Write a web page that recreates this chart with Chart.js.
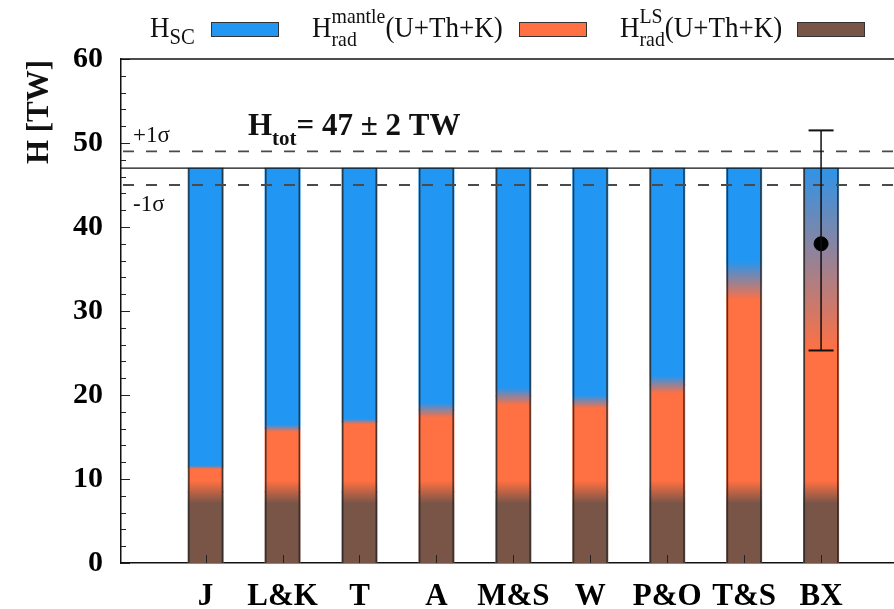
<!DOCTYPE html>
<html>
<head>
<meta charset="utf-8">
<script src="https://cdn.jsdelivr.net/npm/chart.js@4.4.1/dist/chart.umd.min.js"></script>
<style>
  html, body { margin: 0; padding: 0; background: #fff; overflow: hidden; }
  #wrap { width: 894px; height: 609px; overflow: hidden; }
</style>
</head>
<body>
<div id="wrap"><canvas id="heat" width="906" height="609"></canvas></div>
<script>
// Earth composition models
const models = ['J', 'L&K', 'T', 'A', 'M&S', 'W', 'P&O', 'T&S', 'BX'];
// lithosphere (LS) radiogenic heat, TW, and the band it fades over
const lsHeat = [8.45, 8.45, 8.45, 8.45, 8.45, 8.45, 8.45, 8.45, 8.45];
const lsLow = 7.1, lsHigh = 9.8;
// top of the radiogenic part (LS + mantle), TW, and its fade band
const radTop  = [11.4, 16.05, 16.85, 18.2, 19.85, 19.2, 21.25, 33.65, 38.0];
const radLow  = [11.2, 15.6, 16.5, 17.3, 18.8, 18.4, 20.2, 31.3, 25.3];
const radHigh = [11.6, 16.5, 17.2, 19.1, 20.9, 20.0, 22.3, 36.0, 48.5];
// total surface heat flow
const hTot = 47, hTotErr = 2;
// BX point with its error bar
const bxValue = 38, bxLow = 25.3, bxHigh = 51.5;

const BLUE = '#2196F3', ORANGE = '#FF7043', BROWN = '#795548';
const SERIF = '"Liberation Serif", "Times New Roman", serif';

const lsPart = lsHeat;
const mantlePart = radTop.map((v, i) => v - lsHeat[i]);
const scPart = radTop.map(v => hTot - v);

// one gradient per bar, shared by all its stacked segments
function barFill(c) {
  const chart = c.chart, y = chart.scales.y, i = c.dataIndex;
  if (!y || !chart.chartArea || i === undefined) return BLUE;
  const top = Math.max(hTot, radHigh[i]);
  const g = chart.ctx.createLinearGradient(0, y.getPixelForValue(0), 0, y.getPixelForValue(top));
  g.addColorStop(0, BROWN);
  g.addColorStop(lsLow / top, BROWN);
  g.addColorStop(lsHigh / top, ORANGE);
  g.addColorStop(radLow[i] / top, ORANGE);
  g.addColorStop(radHigh[i] / top, BLUE);
  g.addColorStop(1, BLUE);
  return g;
}

function toXY(arr) {
  return arr.map((v, i) => ({ x: i + 1, y: v }));
}

const barStyle = {
  type: 'bar',
  order: 1,
  backgroundColor: barFill,
  borderWidth: 0,
  inflateAmount: 0.5,
  barThickness: 35
};

function drawParts(ctx, x, y, parts, sx) {
  ctx.save();
  ctx.translate(x, y);
  ctx.scale(sx, 1);
  ctx.textBaseline = 'alphabetic';
  ctx.textAlign = 'left';
  let cx = 0;
  for (const p of parts) {
    if (p.sub !== undefined) {
      ctx.font = `${p.size}px ${SERIF}`;
      ctx.fillText(p.sub, cx, p.subDy);
      ctx.fillText(p.sup, cx, p.supDy);
      cx += Math.max(ctx.measureText(p.sub).width, ctx.measureText(p.sup).width);
    } else {
      ctx.font = `${p.bold ? 'bold ' : ''}${p.size}px ${SERIF}`;
      ctx.fillText(p.text, cx, p.dy || 0);
      cx += ctx.measureText(p.text).width;
    }
  }
  ctx.restore();
}

const decorations = {
  id: 'decorations',
  afterDatasetsDraw(chart) {
    const { ctx, chartArea: a, scales: { x, y } } = chart;
    ctx.save();

    // side outlines of each stacked bar
    const bottomBars = chart.getDatasetMeta(0).data;
    const topBars = chart.getDatasetMeta(2).data;
    ctx.strokeStyle = 'rgba(40,40,40,0.85)';
    ctx.lineWidth = 1.5;
    bottomBars.forEach((bar, i) => {
      const half = bar.width / 2;
      const y0 = bar.base, y1 = topBars[i].y;
      for (const px of [bar.x - half + 0.75, bar.x + half - 0.75]) {
        ctx.beginPath();
        ctx.moveTo(px, y0);
        ctx.lineTo(px, y1);
        ctx.stroke();
      }
    });

    // total heat line and its +-1 sigma band
    ctx.strokeStyle = '#111';
    ctx.lineWidth = 1.2;
    ctx.beginPath();
    ctx.moveTo(a.left, y.getPixelForValue(hTot));
    ctx.lineTo(a.right, y.getPixelForValue(hTot));
    ctx.stroke();
    ctx.strokeStyle = '#4a4a4a';
    ctx.lineWidth = 1.8;
    ctx.setLineDash([11, 12]);
    for (const v of [hTot + hTotErr, hTot - hTotErr]) {
      ctx.beginPath();
      ctx.moveTo(a.left + 2, y.getPixelForValue(v));
      ctx.lineTo(a.right, y.getPixelForValue(v));
      ctx.stroke();
    }
    ctx.setLineDash([]);

    // BX error bar
    const bx = x.getPixelForValue(models.length);
    ctx.strokeStyle = '#111';
    ctx.lineWidth = 1.5;
    ctx.beginPath();
    ctx.moveTo(bx, y.getPixelForValue(bxLow));
    ctx.lineTo(bx, y.getPixelForValue(bxHigh));
    ctx.stroke();
    ctx.lineWidth = 2;
    for (const v of [bxLow, bxHigh]) {
      ctx.beginPath();
      ctx.moveTo(bx - 12.5, y.getPixelForValue(v));
      ctx.lineTo(bx + 12.5, y.getPixelForValue(v));
      ctx.stroke();
    }

    // inward ticks
    ctx.strokeStyle = '#222';
    ctx.lineWidth = 1;
    for (let v = 0; v <= 60; v += 2) {
      const py = Math.round(y.getPixelForValue(v)) + 0.5;
      ctx.beginPath();
      ctx.moveTo(a.left, py);
      ctx.lineTo(a.left + (v % 10 === 0 ? 9 : 5), py);
      ctx.stroke();
    }
    models.forEach((m, i) => {
      const px = Math.round(x.getPixelForValue(i + 1)) + 0.5;
      ctx.beginPath();
      ctx.moveTo(px, a.bottom);
      ctx.lineTo(px, a.bottom - 8);
      ctx.stroke();
    });

    // top frame line
    ctx.strokeStyle = '#111';
    ctx.lineWidth = 1.5;
    ctx.beginPath();
    ctx.moveTo(a.left, a.top);
    ctx.lineTo(a.right, a.top);
    ctx.stroke();

    // sigma labels and total
    ctx.fillStyle = '#111';
    drawParts(ctx, a.left + 12, y.getPixelForValue(hTot + hTotErr) - 9,
      [{ text: '+1σ', size: 23 }], 1);
    drawParts(ctx, a.left + 12, y.getPixelForValue(hTot - hTotErr) + 26,
      [{ text: '-1σ', size: 23 }], 1);
    drawParts(ctx, 248, y.getPixelForValue(hTot + hTotErr) - 16, [
      { text: 'H', size: 31, bold: true },
      { text: 'tot', size: 21, bold: true, dy: 10 },
      { text: `= ${hTot} ± ${hTotErr} TW`, size: 31, bold: true }
    ], 1);

    // y axis title
    ctx.save();
    ctx.translate(40, 112);
    ctx.rotate(-Math.PI / 2);
    ctx.font = `bold 31px ${SERIF}`;
    ctx.textAlign = 'center';
    ctx.textBaseline = 'middle';
    ctx.fillText('H [TW]', 0, 0);
    ctx.restore();

    // legend
    const entries = [
      { x: 150, box: 211, color: BLUE, parts: [
        { text: 'H', size: 30 }, { text: 'SC', size: 23, dy: 7 }] },
      { x: 312, box: 519, color: ORANGE, parts: [
        { text: 'H', size: 30 }, { sub: 'rad', sup: 'mantle', size: 22, subDy: 9, supDy: -14 },
        { text: '(U+Th+K)', size: 30 }] },
      { x: 620, box: 797, color: BROWN, parts: [
        { text: 'H', size: 30 }, { sub: 'rad', sup: 'LS', size: 22, subDy: 9, supDy: -14 },
        { text: '(U+Th+K)', size: 30 }] }
    ];
    for (const e of entries) {
      drawParts(ctx, e.x, 37, e.parts, 0.9);
      ctx.fillStyle = e.color;
      ctx.fillRect(e.box, 22, 67, 14);
      ctx.strokeStyle = '#333';
      ctx.lineWidth = 1;
      ctx.strokeRect(e.box + 0.5, 22.5, 67, 14);
      ctx.fillStyle = '#111';
    }
    ctx.restore();
  }
};

new Chart(document.getElementById('heat'), {
  data: {
    datasets: [
      { ...barStyle, label: 'H_rad LS', data: toXY(lsPart) },
      { ...barStyle, label: 'H_rad mantle', data: toXY(mantlePart) },
      { ...barStyle, label: 'H_SC', data: toXY(scPart) },
      {
        type: 'scatter',
        order: 0,
        label: 'BX',
        data: [{ x: models.length, y: bxValue }],
        backgroundColor: '#000',
        borderColor: '#000',
        pointRadius: 7,
        pointHoverRadius: 7
      }
    ]
  },
  options: {
    responsive: false,
    animation: false,
    events: [],
    layout: { padding: { top: 59, right: 4, left: 0, bottom: 0 } },
    plugins: { legend: { display: false }, tooltip: { enabled: false } },
    scales: {
      x: {
        type: 'linear',
        stacked: true,
        offset: false,
        min: -0.1,
        max: 10,
        afterBuildTicks: s => { s.ticks = models.map((m, i) => ({ value: i + 1 })); },
        afterFit: s => { s.height = 46; },
        ticks: {
          callback: v => models[v - 1],
          color: '#000',
          padding: 15,
          maxRotation: 0,
          autoSkip: false,
          font: { family: SERIF, size: 31, weight: 'bold' }
        },
        grid: { display: false, drawTicks: false },
        border: { color: '#111', width: 1.5 }
      },
      y: {
        stacked: true,
        min: 0,
        max: 60,
        afterFit: s => { s.width = 121; },
        ticks: {
          stepSize: 10,
          color: '#000',
          padding: 18,
          font: { family: SERIF, size: 30, weight: 'bold' }
        },
        grid: { display: false, drawTicks: false },
        border: { color: '#111', width: 1.5 }
      }
    }
  },
  plugins: [decorations]
});
</script>
</body>
</html>
